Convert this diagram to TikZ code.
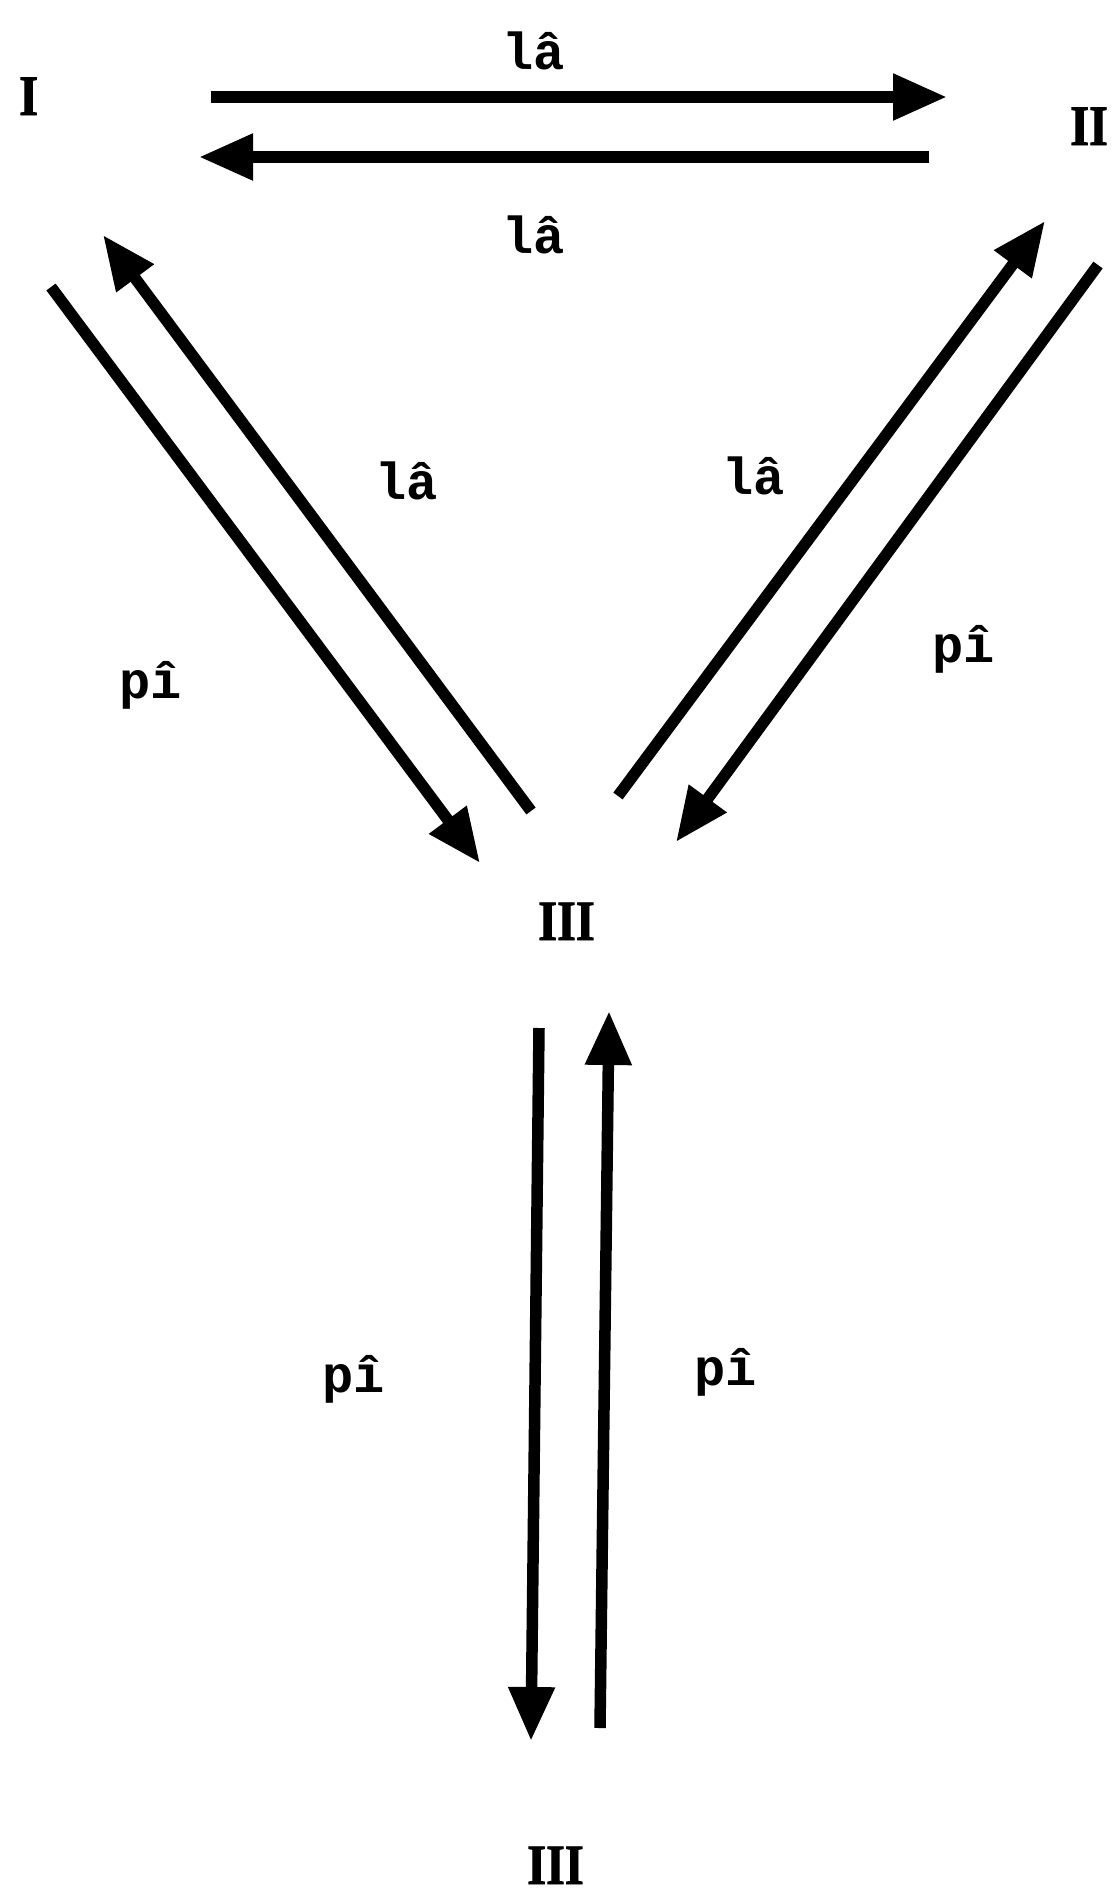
\documentclass[tikz,border=0pt]{standalone}
\usepackage{fontspec}
\setmonofont{Liberation Mono}
\newfontfamily\numfont[FakeStretch=0.85,FakeBold=1.5]{Liberation Serif Bold}
\usetikzlibrary{arrows.meta}
\tikzset{
  arr/.style={line width=11.5pt, -{Triangle[length=54pt,width=44pt]}},
  lab/.style={anchor=base west, inner sep=0pt, font=\fontsize{52}{60}\selectfont\ttfamily\bfseries},
  num/.style={anchor=base west, inner sep=0pt, font=\fontsize{57}{64}\selectfont\numfont}
}
\begin{document}
\begin{tikzpicture}[x=1pt,y=-1pt]
\useasboundingbox (0,0) rectangle (1115,1893);
% numerals
\node[num] (n1) at (19,115) {I};
\node[num] (n2) at (1070,145) {II};
\node[num] (n3) at (538,940) {III};
\node[num] (n4) at (527,1884) {III};
% labels
\node[lab] (la1) at (502,69) {lâ};
\node[lab] (la2) at (502,253) {lâ};
\node[lab] (la3) at (375,499) {lâ};
\node[lab] (la4) at (722,494) {lâ};
\node[lab] (pi1) at (119,698) {pî};
\node[lab] (pi2) at (932,662) {pî};
\node[lab] (pi3) at (322,1392) {pî};
\node[lab] (pi4) at (694,1385) {pî};
% arrow endpoints
\coordinate (a1s) at (211,97);  \coordinate (a1e) at (947,97);
\coordinate (a2s) at (929,157); \coordinate (a2e) at (199,157);
\coordinate (b1s) at (51,287);  \coordinate (b1e) at (480,863);
\coordinate (b2s) at (531,811); \coordinate (b2e) at (103,235);
\coordinate (c1s) at (618,796); \coordinate (c1e) at (1045,221);
\coordinate (c2s) at (1098,265);\coordinate (c2e) at (676,842);
\coordinate (d1s) at (539,1028);\coordinate (d1e) at (531,1741);
\coordinate (d2s) at (600,1728);\coordinate (d2e) at (609,1011);
\draw[arr] (a1s) -- (a1e);
\draw[arr] (a2s) -- (a2e);
\draw[arr] (b1s) -- (b1e);
\draw[arr] (b2s) -- (b2e);
\draw[arr] (c1s) -- (c1e);
\draw[arr] (c2s) -- (c2e);
\draw[arr] (d1s) -- (d1e);
\draw[arr] (d2s) -- (d2e);
\end{tikzpicture}
\end{document}
